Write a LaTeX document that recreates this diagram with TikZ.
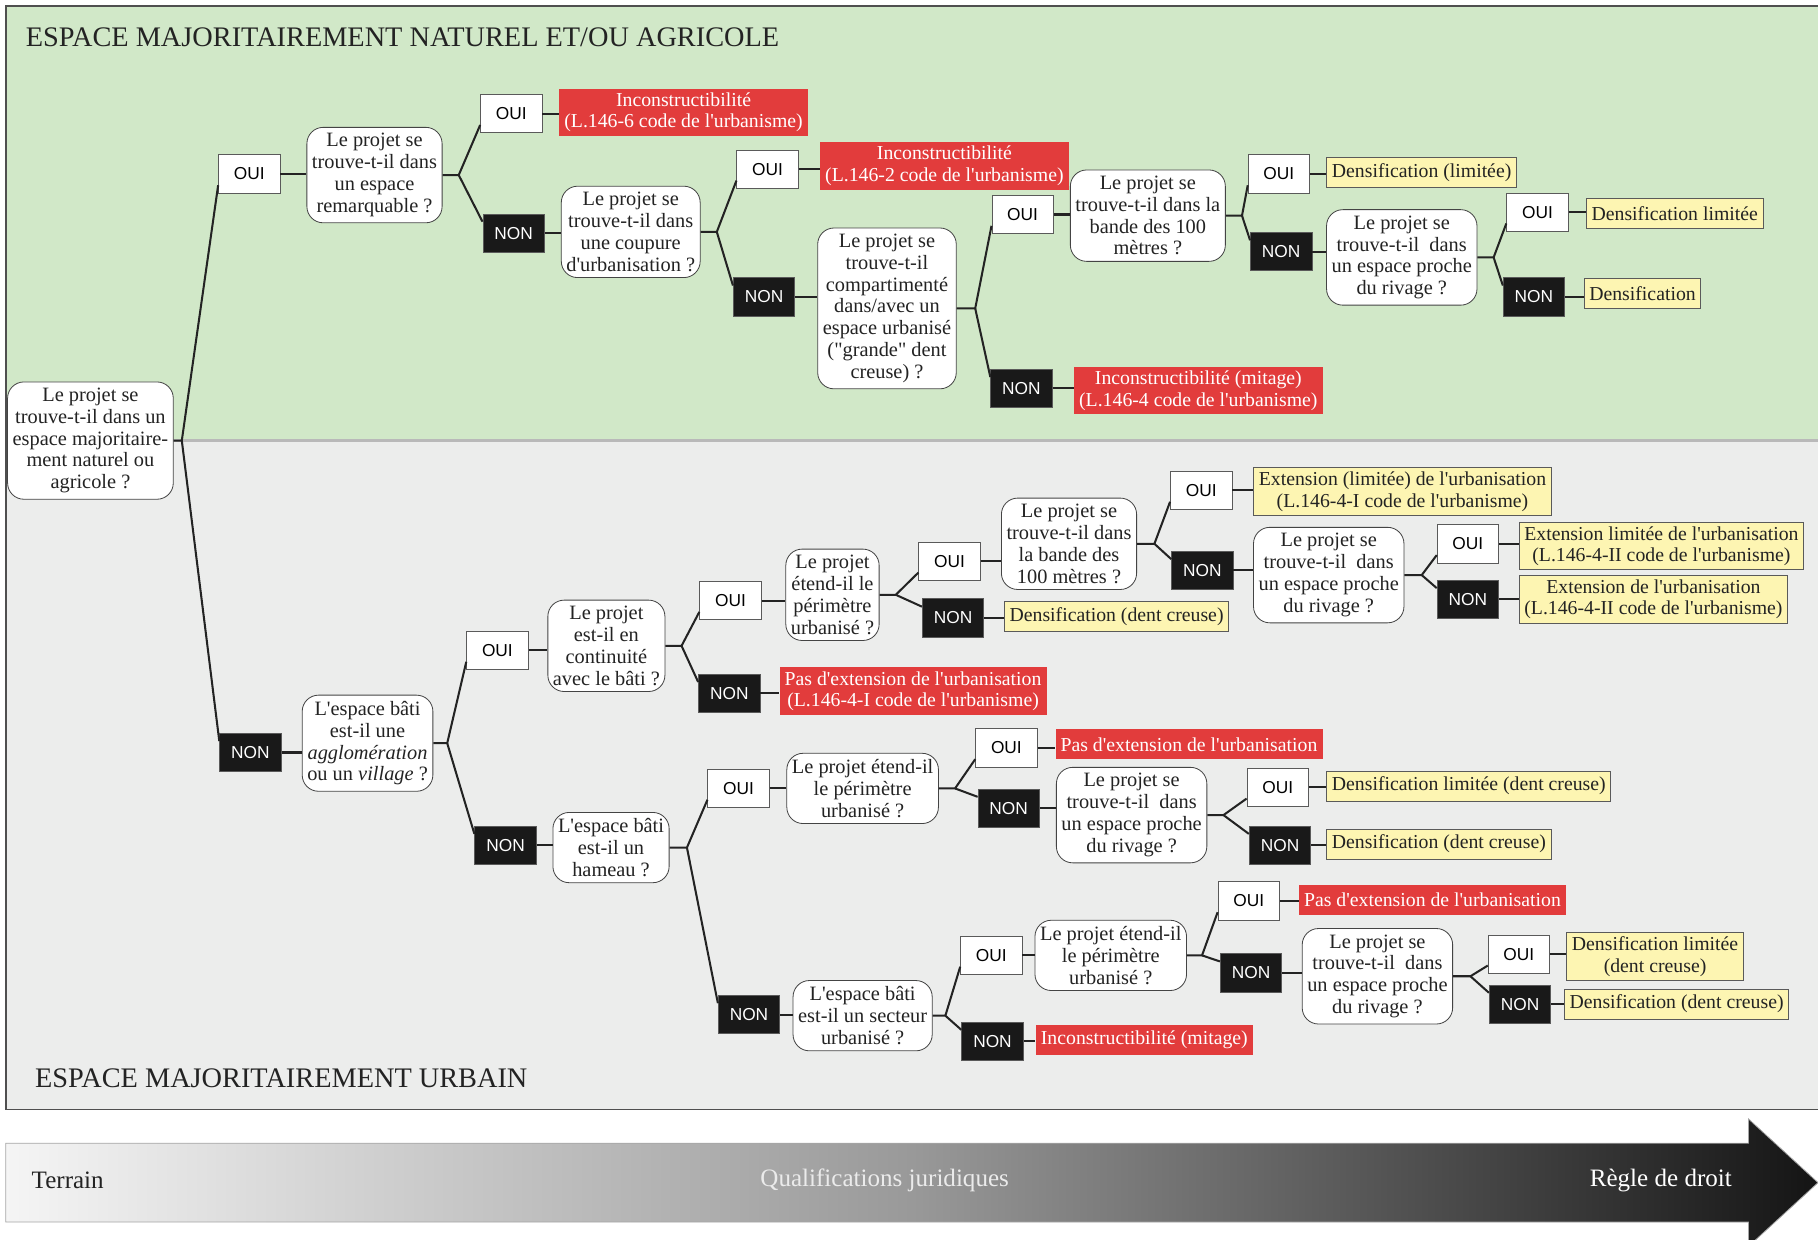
\documentclass[tikz,border=0pt]{standalone}
\usepackage{fontspec}
\setmainfont{Liberation Serif}[Ligatures=TeXOff]
\setsansfont{Liberation Sans}

\definecolor{vert}{RGB}{209,232,200}
\definecolor{gris}{RGB}{236,237,236}
\definecolor{rougeR}{RGB}{226,60,60}
\definecolor{jauneJ}{RGB}{253,245,178}
\definecolor{trait}{RGB}{35,35,35}

\tikzset{
  qbox/.style={draw=trait!85, fill=white, rounded corners=8pt, align=center, text=trait,
    inner xsep=2.5pt, inner ysep=3pt, font=\fontsize{10}{10.7}\selectfont},
  oui/.style={draw=trait!75, fill=white, minimum width=1.06cm, minimum height=0.66cm,
    inner sep=0pt, font=\sffamily\fontsize{8.5}{10}\selectfont},
  non/.style={oui, fill=black!90, text=white},
  rbox/.style={fill=rougeR, text=white, align=center, anchor=west, minimum height=0.52cm,
    inner xsep=2.5pt, inner ysep=2pt, font=\fontsize{9.7}{10.5}\selectfont},
  ybox/.style={rbox, fill=jauneJ, draw=trait!75, text=trait},
  lien/.style={draw=trait, line width=1pt},
}

\begin{document}
\begin{tikzpicture}[x=0.02cm, y=-0.02cm]
\useasboundingbox (0,0) rectangle (1568,1069);

% fonds
\fill[vert] (5,5) rectangle (1570,380);
\fill[gris] (5,380) rectangle (1570,957);
\draw[gray!55, line width=1.5pt] (5,380) -- (1570,380);
\draw[trait!80, line width=0.8pt] (1570,5) -- (5,5) -- (5,957) -- (1570,957);

\node[anchor=west, inner sep=0pt, text=trait, font=\fontsize{13.9}{16}\selectfont] (titre1) at (22,32) {ESPACE MAJORITAIREMENT NATUREL ET/OU AGRICOLE};
\node[anchor=west, inner sep=0pt, text=trait, font=\fontsize{13.9}{16}\selectfont] (titre2) at (30,930) {ESPACE MAJORITAIREMENT URBAIN};

% fleche du bas
\shade[left color=white!96!black, right color=black!92, middle color=black!40, draw=gray!70]
  (5,986) -- (1508,986) -- (1508,965) -- (1568,1020) -- (1508,1075) -- (1508,1054) -- (5,1054) -- cycle;
\node[anchor=west, inner sep=0pt, text=trait, font=\fontsize{12.3}{14}\selectfont] (terrain) at (27,1018) {Terrain};
\node[text=white!92!black, font=\fontsize{12.3}{14}\selectfont] (qualif) at (763,1018) {Qualifications juridiques};
\node[anchor=east, inner sep=0pt, text=white, font=\fontsize{12.3}{14}\selectfont] (regle) at (1494,1018) {Règle de droit};

% racine
\node[qbox] (q0) at (78,380) {Le projet se\\trouve-t-il dans un\\espace majoritaire-\\ment naturel ou\\agricole ?};
\node[oui] (oui1) at (215,150) {OUI};
\node[non] (non1) at (216,649) {NON};
\draw[lien] (q0.east) -- ++(7,0) coordinate (b0) -- (oui1.200);
\draw[lien] (b0) -- (non1.160);

% espace naturel
\node[qbox] (q1) at (323,151) {Le projet se\\trouve-t-il dans\\un espace\\remarquable ?};
\draw[lien] (oui1.east) -- (oui1.east -| q1.west);
\node[oui] (oui2) at (441,98) {OUI};
\node[non] (non2) at (443,201) {NON};
\draw[lien] (q1.east) -- ++(14,0) coordinate (b1) -- (oui2.200);
\draw[lien] (b1) -- (non2.160);
\node[rbox] (r1) at (482,97) {Inconstructibilité\\(L.146-6 code de l'urbanisme)};
\draw[lien] (oui2.east) -- (oui2.east -| r1.west);

\node[qbox] (q2) at (544,200) {Le projet se\\trouve-t-il dans\\une coupure\\d'urbanisation ?};
\draw[lien] (non2.east) -- (non2.east -| q2.west);
\node[oui] (oui3) at (662,146) {OUI};
\node[non] (non3) at (659,256) {NON};
\draw[lien] (q2.east) -- ++(14,0) coordinate (b2) -- (oui3.200);
\draw[lien] (b2) -- (non3.160);
\node[rbox] (r2) at (707,143) {Inconstructibilité\\(L.146-2 code de l'urbanisme)};
\draw[lien] (oui3.east) -- (oui3.east -| r2.west);

\node[qbox] (q3) at (765,266) {Le projet se\\trouve-t-il\\compartimenté\\dans/avec un\\espace urbanisé\\("grande" dent\\creuse) ?};
\draw[lien] (non3.east) -- (non3.east -| q3.west);
\node[oui] (oui4) at (882,185) {OUI};
\node[non] (non4) at (881,335) {NON};
\draw[lien] (q3.east) -- ++(16,0) coordinate (b3) -- (oui4.200);
\draw[lien] (b3) -- (non4.160);
\node[rbox] (r3) at (926,337) {Inconstructibilité (mitage)\\(L.146-4 code de l'urbanisme)};
\draw[lien] (non4.east) -- (non4.east -| r3.west);

\node[qbox] (q4) at (990,186) {Le projet se\\trouve-t-il dans la\\bande des 100\\mètres ?};
\draw[lien] (oui4.east) -- (oui4.east -| q4.west);
\node[oui] (oui5) at (1103,150) {OUI};
\node[non] (non5) at (1105,217) {NON};
\draw[lien] (q4.east) -- ++(14,0) coordinate (b4) -- (oui5.200);
\draw[lien] (b4) -- (non5.160);
\node[ybox] (y1) at (1144,149) {Densification (limitée)};
\draw[lien] (oui5.east) -- (oui5.east -| y1.west);

\node[qbox] (q5) at (1209,222) {Le projet se\\trouve-t-il\ \ dans\\un espace proche\\du rivage ?};
\draw[lien] (non5.east) -- (non5.east -| q5.west);
\node[oui] (oui6) at (1326,183) {OUI};
\node[non] (non6) at (1323,256) {NON};
\draw[lien] (q5.east) -- ++(14,0) coordinate (b5) -- (oui6.200);
\draw[lien] (b5) -- (non6.160);
\node[ybox] (y2) at (1368,184) {Densification limitée};
\node[ybox] (y3) at (1366,253) {Densification};
\draw[lien] (oui6.east) -- (oui6.east -| y2.west);
\draw[lien] (non6.east) -- (non6.east -| y3.west);

% espace urbain
\node[qbox] (q6) at (317,641) {L'espace bâti\\est-il une\\\textit{agglomération}\\ou un \textit{village} ?};
\draw[lien] (non1.east) -- (non1.east -| q6.west);
\node[oui] (oui7) at (429,561) {OUI};
\node[non] (non7) at (436,729) {NON};
\draw[lien] (q6.east) -- ++(12,0) coordinate (b6) -- (oui7.200);
\draw[lien] (b6) -- (non7.160);

\node[qbox] (q7) at (523,557) {Le projet\\est-il en\\continuité\\avec le bâti ?};
\draw[lien] (oui7.east) -- (oui7.east -| q7.west);
\node[oui] (oui8) at (630,518) {OUI};
\node[non] (non8) at (629,598) {NON};
\draw[lien] (q7.east) -- ++(14,0) coordinate (b7) -- (oui8.200);
\draw[lien] (b7) -- (non8.160);
\node[rbox] (r4) at (672,596) {Pas d'extension de l'urbanisation\\(L.146-4-I code de l'urbanisme)};
\draw[lien] (non8.east) -- (non8.east -| r4.west);

\node[qbox] (q8) at (718,513) {Le projet\\étend-il le\\périmètre\\urbanisé ?};
\draw[lien] (oui8.east) -- (oui8.east -| q8.west);
\node[oui] (oui9) at (819,484) {OUI};
\node[non] (non9) at (822,533) {NON};
\draw[lien] (q8.east) -- ++(14,0) coordinate (b8) -- (oui9.200);
\draw[lien] (b8) -- (non9.160);
\node[ybox] (y7) at (866,532) {Densification (dent creuse)};
\draw[lien] (non9.east) -- (non9.east -| y7.west);

\node[qbox] (q9) at (922,469) {Le projet se\\trouve-t-il dans\\la bande des\\100 mètres ?};
\draw[lien] (oui9.east) -- (oui9.east -| q9.west);
\node[oui] (oui10) at (1036,423) {OUI};
\node[non] (non10) at (1037,492) {NON};
\draw[lien] (q9.east) -- ++(15,0) coordinate (b9) -- (oui10.200);
\draw[lien] (b9) -- (non10.160);
\node[ybox] (y4) at (1081,424) {Extension (limitée) de l'urbanisation\\(L.146-4-I code de l'urbanisme)};
\draw[lien] (oui10.east) -- (oui10.east -| y4.west);

\node[qbox] (q10) at (1146,496) {Le projet se\\trouve-t-il\ \ dans\\un espace proche\\du rivage ?};
\draw[lien] (non10.east) -- (non10.east -| q10.west);
\node[oui] (oui11) at (1266,469) {OUI};
\node[non] (non11) at (1266,517) {NON};
\draw[lien] (q10.east) -- ++(15,0) coordinate (b10) -- (oui11.200);
\draw[lien] (b10) -- (non11.160);
\node[ybox] (y5) at (1310,471) {Extension limitée de l'urbanisation\\(L.146-4-II code de l'urbanisme)};
\node[ybox] (y6) at (1310,517) {Extension de l'urbanisation\\(L.146-4-II code de l'urbanisme)};
\draw[lien] (oui11.east) -- (oui11.east -| y5.west);
\draw[lien] (non11.east) -- (non11.east -| y6.west);

\node[qbox] (q11) at (527,731) {L'espace bâti\\est-il un\\hameau ?};
\draw[lien] (non7.east) -- (non7.east -| q11.west);
\node[oui] (oui12) at (637,680) {OUI};
\node[non] (non12) at (646,875) {NON};
\draw[lien] (q11.east) -- ++(15,0) coordinate (b11) -- (oui12.200);
\draw[lien] (b11) -- (non12.160);

\node[qbox] (q12) at (744,680) {Le projet étend-il\\le périmètre\\urbanisé ?};
\draw[lien] (oui12.east) -- (oui12.east -| q12.west);
\node[oui] (oui13) at (868,645) {OUI};
\node[non] (non13) at (870,697) {NON};
\draw[lien] (q12.east) -- ++(14,0) coordinate (b12) -- (oui13.200);
\draw[lien] (b12) -- (non13.160);
\node[rbox] (r5) at (910,642) {Pas d'extension de l'urbanisation};
\draw[lien] (oui13.east) -- (oui13.east -| r5.west);

\node[qbox] (q13) at (976,703) {Le projet se\\trouve-t-il\ \ dans\\un espace proche\\du rivage ?};
\draw[lien] (non13.east) -- (non13.east -| q13.west);
\node[oui] (oui14) at (1102,679) {OUI};
\node[non] (non14) at (1104,729) {NON};
\draw[lien] (q13.east) -- ++(14,0) coordinate (b13) -- (oui14.200);
\draw[lien] (b13) -- (non14.160);
\node[ybox] (y8) at (1144,678) {Densification limitée (dent creuse)};
\node[ybox] (y9) at (1144,728) {Densification (dent creuse)};
\draw[lien] (oui14.east) -- (oui14.east -| y8.west);
\draw[lien] (non14.east) -- (non14.east -| y9.west);

\node[qbox] (q14) at (744,876) {L'espace bâti\\est-il un secteur\\urbanisé ?};
\draw[lien] (non12.east) -- (non12.east -| q14.west);
\node[oui] (oui15) at (855,824) {OUI};
\node[non] (non15) at (856,898) {NON};
\draw[lien] (q14.east) -- ++(11,0) coordinate (b14) -- (oui15.200);
\draw[lien] (b14) -- (non15.160);
\node[rbox] (r7) at (893,897) {Inconstructibilité (mitage)};
\draw[lien] (non15.east) -- (non15.east -| r7.west);

\node[qbox] (q15) at (958,824) {Le projet étend-il\\le périmètre\\urbanisé ?};
\draw[lien] (oui15.east) -- (oui15.east -| q15.west);
\node[oui] (oui16) at (1077,777) {OUI};
\node[non] (non16) at (1079,839) {NON};
\draw[lien] (q15.east) -- ++(13,0) coordinate (b15) -- (oui16.200);
\draw[lien] (b15) -- (non16.160);
\node[rbox] (r6) at (1120,776) {Pas d'extension de l'urbanisation};
\draw[lien] (oui16.east) -- (oui16.east -| r6.west);

\node[qbox] (q16) at (1188,842) {Le projet se\\trouve-t-il\ \ dans\\un espace proche\\du rivage ?};
\draw[lien] (non16.east) -- (non16.east -| q16.west);
\node[oui] (oui17) at (1310,823) {OUI};
\node[non] (non17) at (1311,866) {NON};
\draw[lien] (q16.east) -- ++(15,0) coordinate (b16) -- (oui17.200);
\draw[lien] (b16) -- (non17.160);
\node[ybox] (y10) at (1351,825) {Densification limitée\\(dent creuse)};
\node[ybox] (y11) at (1349,866) {Densification (dent creuse)};
\draw[lien] (oui17.east) -- (oui17.east -| y10.west);
\draw[lien] (non17.east) -- (non17.east -| y11.west);
\end{tikzpicture}
\end{document}
